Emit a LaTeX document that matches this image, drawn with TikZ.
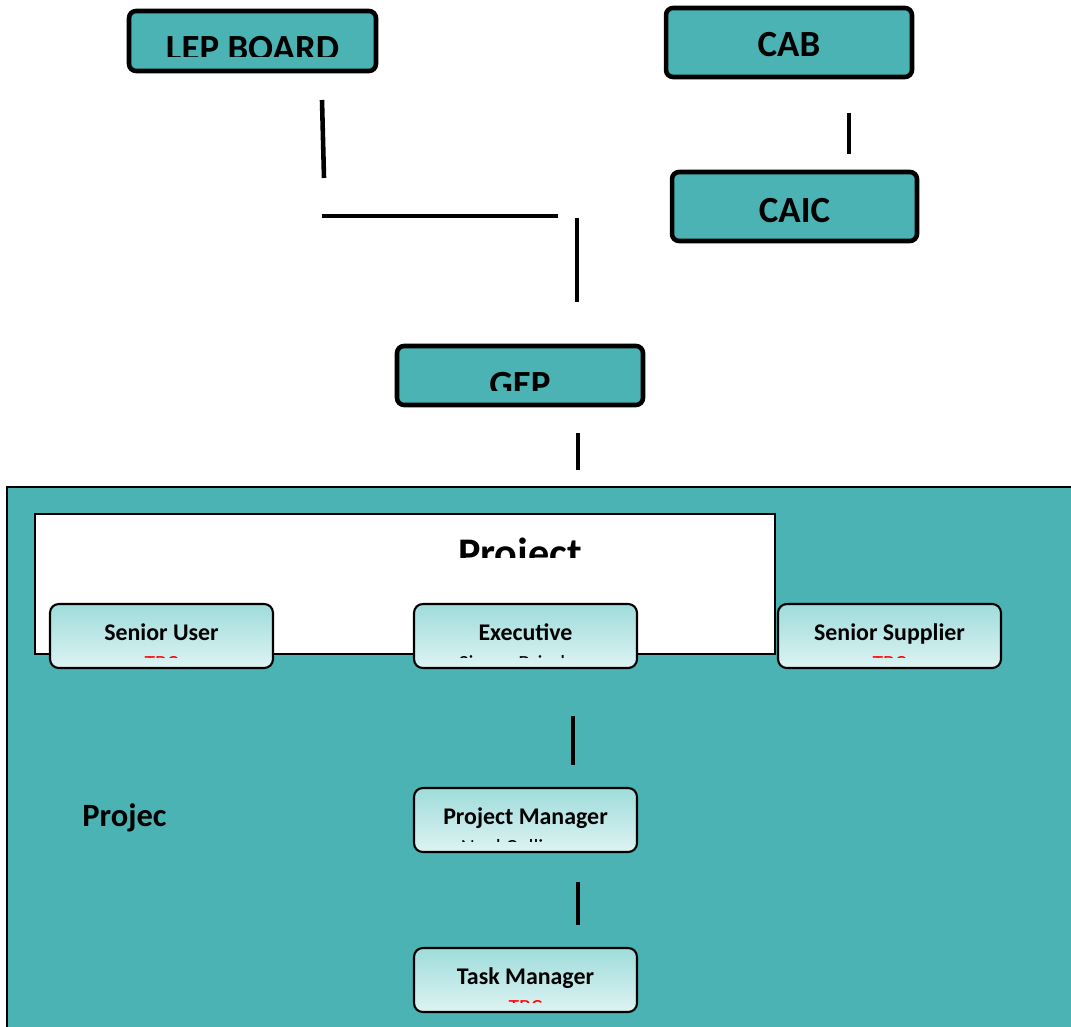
\documentclass[tikz,border=0pt]{standalone}
\usepackage{fontspec}
\setmainfont{Carlito}
\definecolor{boardteal}{HTML}{4BB3B4}
\definecolor{roletop}{HTML}{9EDCDB}
\definecolor{rolebot}{HTML}{DEF3F3}

\begin{document}
\begin{tikzpicture}[x=0.02cm, y=-0.02cm,
    board/.style={draw, line width=2.6pt, rounded corners=4pt, fill=boardteal},
    role/.style={draw, line width=1.2pt, rounded corners=5pt, top color=roletop, bottom color=rolebot, minimum width=4.46cm, minimum height=1.28cm},
    link/.style={line width=2.6pt},
    bigtext/.style={font=\fontsize{21}{24}\selectfont\bfseries, anchor=base},
    roletext/.style={font=\fontsize{13.6}{16}\selectfont\bfseries, anchor=base},
    nametext/.style={font=\fontsize{12.3}{14}\selectfont, anchor=base}]
        \useasboundingbox (0,0) rectangle (1071,1027);
        % project area
        \path[draw, line width=1pt, fill=boardteal] (7,487) rectangle (1080,1040);
        \node [draw, line width=1pt, fill=white, minimum width=14.8cm, minimum height=2.8cm] (board) at (405,584) {};
        \begin{scope}
            \clip (40,520) rectangle (770,557);
            \node [bigtext, font=\fontsize{24}{28}\selectfont\bfseries] (boardlabel) at (520,567) {Project};
        \end{scope}
        \node [font=\fontsize{18.5}{21}\selectfont\bfseries, anchor=base west, inner sep=0pt] (teamlabel) at (82,826) {Projec};

        % top boards
        \node [board, minimum width=4.94cm, minimum height=1.2cm] (lep) at (252.5,41) {};
        \begin{scope}
            \clip (135,15) rectangle (370,57);
            \node [bigtext] (leplabel) at (252.5,61) {LEP BOARD};
        \end{scope}
        \node [board, minimum width=4.92cm, minimum height=1.38cm] (cab) at (789,42.5) {};
        \node [bigtext] (cablabel) at (789,57) {CAB};
        \node [board, minimum width=4.9cm, minimum height=1.38cm] (caic) at (794.5,206.5) {};
        \node [bigtext] (caiclabel) at (794.5,222) {CAIC};
        \node [board, minimum width=4.92cm, minimum height=1.18cm] (gep) at (520,375.5) {};
        \begin{scope}
            \clip (400,350) rectangle (640,390);
            \node [bigtext] (geplabel) at (520,396) {GEP};
        \end{scope}

        % roles
        \node [role] (su) at (161.5,636) {};
        \node [role] (exec) at (525.5,636) {};
        \node [role] (ss) at (889.5,636) {};
        \node [role] (pm) at (525.5,820) {};
        \node [role] (tm) at (525.5,980) {};
        \node [roletext] at (161.5,640) {Senior User};
        \node [roletext] at (525.5,640) {Executive};
        \node [roletext] at (889.5,640) {Senior Supplier};
        \node [roletext] at (525.5,824) {Project Manager};
        \node [roletext] at (525.5,984) {Task Manager};
        \begin{scope}
            \clip (0,640) rectangle (1071,657);
            \node [nametext, red] at (161.5,670) {TBC};
            \node [nametext] at (512,670) {Simon Brind};
            \node [nametext, red] at (889.5,670) {TBC};
        \end{scope}
        \begin{scope}
            \clip (414,826) rectangle (637,841);
            \node [nametext] at (512,854) {Neal Collins};
        \end{scope}
        \begin{scope}
            \clip (414,986) rectangle (637,1002);
            \node [nametext, red] at (525.5,1014) {TBC};
        \end{scope}

        % connector pieces
        \coordinate (l1a) at (322,100); \coordinate (l1b) at (324,178);
        \coordinate (l2a) at (322,216); \coordinate (l2b) at (558,216);
        \coordinate (l3a) at (577,218); \coordinate (l3b) at (577,302);
        \coordinate (l4a) at (849,113); \coordinate (l4b) at (849,154);
        \coordinate (l5a) at (578,433); \coordinate (l5b) at (578,470);
        \coordinate (l6a) at (573,716); \coordinate (l6b) at (573,765);
        \coordinate (l7a) at (578,882); \coordinate (l7b) at (578,925);
        \draw [link] (l1a) -- (l1b);
        \draw [link] (l2a) -- (l2b);
        \draw [link] (l3a) -- (l3b);
        \draw [link] (l4a) -- (l4b);
        \draw [link] (l5a) -- (l5b);
        \draw [link] (l6a) -- (l6b);
        \draw [link] (l7a) -- (l7b);
\end{tikzpicture}
\end{document}
